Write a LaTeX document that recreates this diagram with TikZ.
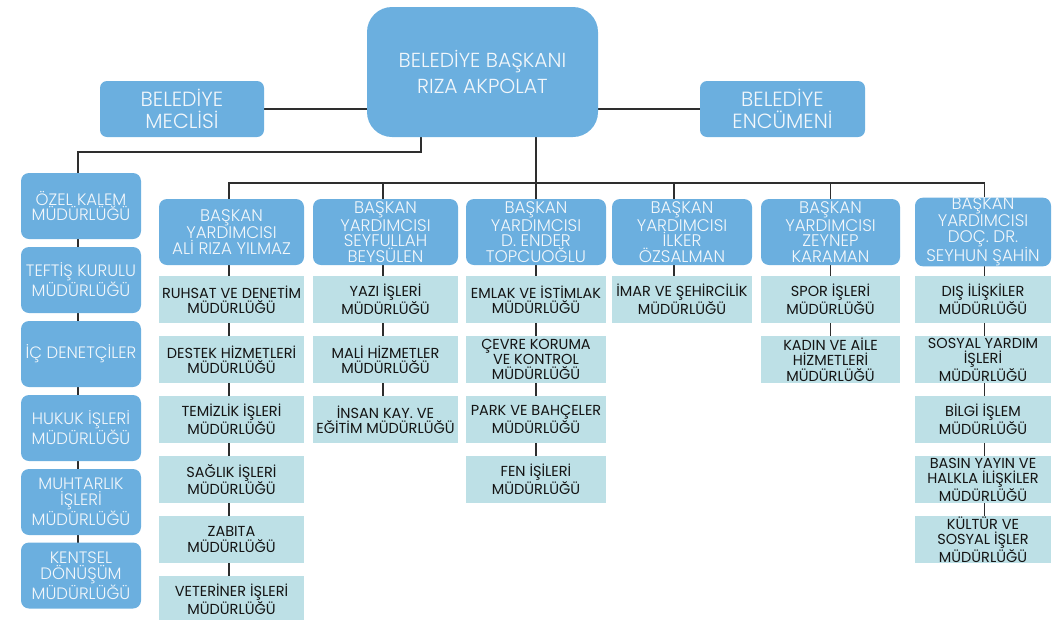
\documentclass[tikz,border=0pt]{standalone}
\usepackage{fontspec}
\setmainfont{Poppins}
\newfontfamily\lightf{Poppins}[UprightFont={* Light}]
\usetikzlibrary{backgrounds}
\definecolor{bblue}{HTML}{6BAFDF}
\definecolor{lcyan}{HTML}{BDE0E6}
\definecolor{lnk}{HTML}{2E2E2E}
\definecolor{btext}{HTML}{F2F7FB}
\tikzset{
  bluebox/.style={fill=bblue, draw=none, rounded corners=8pt, text=btext, align=center, inner sep=0pt,
    font=\lightf\fontsize{16.8}{15.5}\selectfont},
  vpbox/.style={bluebox, minimum height=66pt},
  leftbox/.style={bluebox, minimum width=120pt, minimum height=66pt, font=\lightf\fontsize{16.5}{15.5}\selectfont},
  subbox/.style={fill=lcyan, draw=none, text=black!92, align=center, inner sep=0pt, minimum height=47pt,
    font=\fontsize{14.5}{15.3}\selectfont},
  link/.style={draw=lnk, line width=1.6pt},
}
\begin{document}
\begin{tikzpicture}[x=1pt,y=-1pt]
\useasboundingbox (0,0) rectangle (1052,619);

% top level
\node[bluebox, rounded corners=25pt, minimum width=231pt, minimum height=130pt,
  font=\lightf\fontsize{20.3}{26.5}\selectfont] (mayor) at (482.5,72) {BELED\.IYE BAŞKANI\\RIZA AKPOLAT};
\node[bluebox, rounded corners=7pt, minimum width=164pt, minimum height=56pt,
  font=\lightf\fontsize{20.5}{21.5}\selectfont] (meclis) at (182,109) {BELED\.IYE\\MECL\.IS\.I};
\node[bluebox, rounded corners=7pt, minimum width=165pt, minimum height=56pt,
  font=\lightf\fontsize{20.5}{21.5}\selectfont] (encumen) at (782.5,109) {BELED\.IYE\\ENCÜMEN\.I};

% left column
\node[leftbox] (L1) at (81,206) {ÖZEL KALEM\\MÜDÜRLÜĞÜ};
\node[leftbox] (L2) at (81,280) {TEFT\.IŞ KURULU\\MÜDÜRLÜĞÜ};
\node[leftbox] (L3) at (81,354) {\.IÇ DENETÇ\.ILER};
\node[leftbox] (L4) at (81,428) {HUKUK \.IŞLER\.I\\MÜDÜRLÜĞÜ};
\node[leftbox] (L5) at (81,502) {MUHTARLIK\\\.IŞLER\.I\\MÜDÜRLÜĞÜ};
\node[leftbox] (L6) at (81,575.5) {KENTSEL\\DÖNÜŞÜM\\MÜDÜRLÜĞÜ};

% vice mayors
\node[vpbox, minimum width=145pt] (V1) at (231.5,232) {BAŞKAN\\YARDIMCISI\\AL\.I RIZA YILMAZ};
\node[vpbox, minimum width=145pt] (V2) at (385.5,232) {BAŞKAN\\YARDIMCISI\\SEYFULLAH\\BEYSÜLEN};
\node[vpbox, minimum width=140pt] (V3) at (536,232) {BAŞKAN\\YARDIMCISI\\D. ENDER\\TOPCUOĞLU};
\node[vpbox, minimum width=140pt] (V4) at (682,232) {BAŞKAN\\YARDIMCISI\\\.ILKER\\ÖZSALMAN};
\node[vpbox, minimum width=139pt] (V5) at (830.5,232) {BAŞKAN\\YARDIMCISI\\ZEYNEP\\KARAMAN};
\node[vpbox, minimum width=136pt] (V6) at (983,232) {BAŞKAN\\YARDIMCISI\\DOÇ. DR.\\SEYHUN ŞAH\.IN};

% column 1
\node[subbox, minimum width=145pt] (A1) at (231.5,299.5) {RUHSAT VE DENET\.IM\\MÜDÜRLÜĞÜ};
\node[subbox, minimum width=145pt] (A2) at (231.5,359.5) {DESTEK H\.IZMETLER\.I\\MÜDÜRLÜĞÜ};
\node[subbox, minimum width=145pt] (A3) at (231.5,419.5) {TEM\.IZL\.IK \.IŞLER\.I\\MÜDÜRLÜĞÜ};
\node[subbox, minimum width=145pt] (A4) at (231.5,479.5) {SAĞLIK \.IŞLER\.I\\MÜDÜRLÜĞÜ};
\node[subbox, minimum width=145pt] (A5) at (231.5,539.5) {ZABITA\\MÜDÜRLÜĞÜ};
\node[subbox, minimum width=145pt] (A6) at (231.5,599.5) {VETER\.INER \.IŞLER\.I\\MÜDÜRLÜĞÜ};

% column 2
\node[subbox, minimum width=145pt] (B1) at (385.5,299.5) {YAZI \.IŞLER\.I\\MÜDÜRLÜĞÜ};
\node[subbox, minimum width=145pt] (B2) at (385.5,359.5) {MAL\.I H\.IZMETLER\\MÜDÜRLÜĞÜ};
\node[subbox, minimum width=145pt] (B3) at (385.5,419.5) {\.INSAN KAY. VE\\EĞ\.IT\.IM MÜDÜRLÜĞÜ};

% column 3
\node[subbox, minimum width=140pt] (C1) at (536,299.5) {EMLAK VE \.IST\.IMLAK\\MÜDÜRLÜĞÜ};
\node[subbox, minimum width=140pt] (C2) at (536,359.5) {ÇEVRE KORUMA\\VE KONTROL\\MÜDÜRLÜĞÜ};
\node[subbox, minimum width=140pt] (C3) at (536,419.5) {PARK VE BAHÇELER\\MÜDÜRLÜĞÜ};
\node[subbox, minimum width=140pt] (C4) at (536,479.5) {FEN \.IŞ\.ILER\.I\\MÜDÜRLÜĞÜ};

% column 4
\node[subbox, minimum width=140pt] (D1) at (682,299.5) {\.IMAR VE ŞEH\.IRC\.IL\.IK\\MÜDÜRLÜĞÜ};

% column 5
\node[subbox, minimum width=139pt] (E1) at (830.5,299.5) {SPOR \.IŞLER\.I\\MÜDÜRLÜĞÜ};
\node[subbox, minimum width=139pt] (E2) at (830.5,359.5) {KADIN VE A\.ILE\\H\.IZMETLER\.I\\MÜDÜRLÜĞÜ};

% column 6
\node[subbox, minimum width=136pt] (F1) at (983,299.5) {DIŞ \.IL\.IŞK\.ILER\\MÜDÜRLÜĞÜ};
\node[subbox, minimum width=136pt] (F2) at (983,359.5) {SOSYAL YARDIM\\\.IŞLER\.I\\MÜDÜRLÜĞÜ};
\node[subbox, minimum width=136pt] (F3) at (983,419.5) {B\.ILG\.I \.IŞLEM\\MÜDÜRLÜĞÜ};
\node[subbox, minimum width=136pt] (F4) at (983,479.5) {BASIN YAYIN VE\\HALKLA \.IL\.IŞK\.ILER\\MÜDÜRLÜĞÜ};
\node[subbox, minimum width=136pt] (F5) at (983,539.5) {KÜLTÜR VE\\SOSYAL \.IŞLER\\MÜDÜRLÜĞÜ};

\coordinate (bus) at (536,183);
\coordinate (lk) at (421,152);

\begin{scope}[on background layer]
  \draw[link] (meclis.east) -- (meclis.east -| mayor.west);
  \draw[link] (encumen.west) -- (encumen.west -| mayor.east);
  \draw[link] (lk |- mayor.south) -- (lk) -| ([xshift=-3pt]L1.north);
  \draw[link] ([xshift=-3pt]L1.center) -- ([xshift=-3pt]L6.center);
  \draw[link] (mayor.south -| V3.north) -- (V3.north);
  \draw[link] ([xshift=-2.5pt]V1.north) |- (bus) -| ([xshift=1.5pt]V6.north);
  \draw[link] ([xshift=-2.5pt]V2.north) -- ([xshift=-2.5pt]V2.north |- bus);
  \draw[link] ([xshift=-8pt]V4.north) -- ([xshift=-8pt]V4.north |- bus);
  \draw[link] (V5.north) -- (V5.north |- bus);
  \draw[link] ([xshift=-2.5pt]V1.center) -- ([xshift=-2.5pt]A6.center);
  \draw[link] ([xshift=-2.5pt]V2.center) -- ([xshift=-2.5pt]B3.center);
  \draw[link] (V3) -- (C4);
  \draw[link] ([xshift=-8pt]V4.south) -- ([xshift=-8pt]D1.north);
  \draw[link] (V5) -- (E2);
  \draw[link] ([xshift=1.5pt]V6.center) -- ([xshift=1.5pt]F5.center);
\end{scope}
\end{tikzpicture}
\end{document}
